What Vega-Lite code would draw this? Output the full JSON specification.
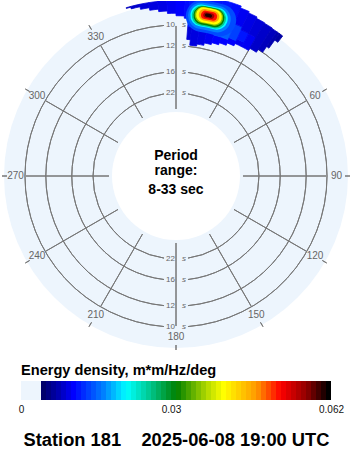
{
"$schema":"https://vega.github.io/schema/vega-lite/v6.json",
"padding":0,
"background":"white",
"spacing":11,
"config":{"view":{"stroke":null},"font":"Liberation Sans"},
"datasets":{
 "disk":[{"f0":0.0303,"f1":0.1168}],
 "rings":[{"p":10,"f":0.1},{"p":12,"f":0.0833},{"p":16,"f":0.0625},{"p":22,"f":0.0455}],
 "spokes":[{"d":0},{"d":30},{"d":60},{"d":90},{"d":120},{"d":150},{"d":180},{"d":210},{"d":240},{"d":270},{"d":300},{"d":330}],
 "dirs":[{"d":30,"lab":"30"},{"d":60,"lab":"60"},{"d":90,"lab":"90"},{"d":120,"lab":"120"},{"d":150,"lab":"150"},{"d":180,"lab":"180"},{"d":210,"lab":"210"},{"d":240,"lab":"240"},{"d":270,"lab":"270"},{"d":300,"lab":"300"},{"d":330,"lab":"330"}],
 "ringlab":[{"p":"10","f":0.1,"d":0},{"p":"12","f":0.0833,"d":0},{"p":"16","f":0.0625,"d":0},{"p":"22","f":0.0455,"d":0},{"p":"10","f":0.1,"d":180},{"p":"12","f":0.0833,"d":180},{"p":"16","f":0.0625,"d":180},{"p":"22","f":0.0455,"d":180}],
 "cells":[
  {"a":343.5,"b":345,"f":0.1190,"g":0.1196,"e":0.0085},
  {"a":345,"b":348,"f":0.1176,"g":0.1196,"e":0.009},
  {"a":348,"b":351,"f":0.1155,"g":0.1196,"e":0.0095},
  {"a":351,"b":354,"f":0.1134,"g":0.1196,"e":0.0098},
  {"a":354,"b":357,"f":0.1114,"g":0.1200,"e":0.010},
  {"a":357,"b":360,"f":0.1094,"g":0.1248,"e":0.0105},
  {"a":0,"b":3,"f":0.1074,"g":0.1248,"e":0.011},
  {"a":3,"b":4.5,"f":0.1056,"g":0.1248,"e":0.0115},
  {"a":4.5,"b":6,"f":0.0888,"g":0.0992,"e":0.0095},
  {"a":4.5,"b":6,"f":0.0992,"g":0.1248,"e":0.012},
  {"a":6,"b":9,"f":0.0844,"g":0.0992,"e":0.0098},
  {"a":6,"b":9,"f":0.0992,"g":0.1248,"e":0.012},
  {"a":9,"b":12,"f":0.0860,"g":0.0976,"e":0.010},
  {"a":9,"b":12,"f":0.0976,"g":0.1248,"e":0.012},
  {"a":12,"b":15,"f":0.0880,"g":0.0976,"e":0.0105},
  {"a":12,"b":15,"f":0.0976,"g":0.1248,"e":0.012},
  {"a":15,"b":18,"f":0.0896,"g":0.0960,"e":0.011},
  {"a":15,"b":18,"f":0.0960,"g":0.1112,"e":0.015},
  {"a":15,"b":18,"f":0.1112,"g":0.1248,"e":0.012},
  {"a":18,"b":21,"f":0.0912,"g":0.0960,"e":0.011},
  {"a":18,"b":21,"f":0.0960,"g":0.1120,"e":0.0155},
  {"a":18,"b":21,"f":0.1120,"g":0.1248,"e":0.0115},
  {"a":21,"b":24,"f":0.0932,"g":0.0976,"e":0.011},
  {"a":21,"b":24,"f":0.0976,"g":0.1096,"e":0.014},
  {"a":21,"b":24,"f":0.1096,"g":0.1232,"e":0.0105},
  {"a":24,"b":27,"f":0.0952,"g":0.0992,"e":0.0105},
  {"a":24,"b":27,"f":0.0992,"g":0.1072,"e":0.012},
  {"a":24,"b":27,"f":0.1072,"g":0.1220,"e":0.010},
  {"a":27,"b":30,"f":0.0952,"g":0.1072,"e":0.0105},
  {"a":27,"b":30,"f":0.1072,"g":0.1208,"e":0.0095},
  {"a":30,"b":33,"f":0.0972,"g":0.1204,"e":0.009},
  {"a":33,"b":35,"f":0.1000,"g":0.1200,"e":0.0085},
  {"a":35,"b":36,"f":0.1056,"g":0.1200,"e":0.008},
  {"a":36,"b":37.3,"f":0.1136,"g":0.1200,"e":0.0075}
 ],
 "peak":[
  {"a":3.5,"b":21.5,"f":0.0960,"g":0.1216,"e":0.0145},
  {"a":4.3,"b":19.5,"f":0.0984,"g":0.1196,"e":0.017},
  {"a":5.1,"b":18.4,"f":0.1004,"g":0.1180,"e":0.0216},
  {"a":5.6,"b":17.8,"f":0.1012,"g":0.1172,"e":0.026},
  {"a":6.2,"b":17.2,"f":0.1020,"g":0.1168,"e":0.0316},
  {"a":6.6,"b":16.7,"f":0.1032,"g":0.1164,"e":0.036},
  {"a":7.1,"b":16.2,"f":0.1040,"g":0.1160,"e":0.041},
  {"a":8.0,"b":15.3,"f":0.1056,"g":0.1148,"e":0.047},
  {"a":8.8,"b":14.5,"f":0.1069,"g":0.1136,"e":0.052},
  {"a":9.6,"b":13.5,"f":0.1080,"g":0.1124,"e":0.057},
  {"a":10.2,"b":12.7,"f":0.1088,"g":0.1116,"e":0.061}
 ],
 "bar":[{"a":0,"b":0.004},{"a":0.004,"b":0.005},{"a":0.005,"b":0.006},{"a":0.006,"b":0.007},{"a":0.007,"b":0.008},{"a":0.008,"b":0.009},{"a":0.009,"b":0.01},{"a":0.01,"b":0.011},{"a":0.011,"b":0.012},{"a":0.012,"b":0.013},{"a":0.013,"b":0.014},{"a":0.014,"b":0.015},{"a":0.015,"b":0.016},{"a":0.016,"b":0.017},{"a":0.017,"b":0.018},{"a":0.018,"b":0.019},{"a":0.019,"b":0.02},{"a":0.02,"b":0.021},{"a":0.021,"b":0.022},{"a":0.022,"b":0.023},{"a":0.023,"b":0.024},{"a":0.024,"b":0.025},{"a":0.025,"b":0.026},{"a":0.026,"b":0.027},{"a":0.027,"b":0.028},{"a":0.028,"b":0.029},{"a":0.029,"b":0.03},{"a":0.03,"b":0.031},{"a":0.031,"b":0.032},{"a":0.032,"b":0.033},{"a":0.033,"b":0.034},{"a":0.034,"b":0.035},{"a":0.035,"b":0.036},{"a":0.036,"b":0.037},{"a":0.037,"b":0.038},{"a":0.038,"b":0.039},{"a":0.039,"b":0.04},{"a":0.04,"b":0.041},{"a":0.041,"b":0.042},{"a":0.042,"b":0.043},{"a":0.043,"b":0.044},{"a":0.044,"b":0.045},{"a":0.045,"b":0.046},{"a":0.046,"b":0.047},{"a":0.047,"b":0.048},{"a":0.048,"b":0.049},{"a":0.049,"b":0.05},{"a":0.05,"b":0.051},{"a":0.051,"b":0.052},{"a":0.052,"b":0.053},{"a":0.053,"b":0.054},{"a":0.054,"b":0.055},{"a":0.055,"b":0.056},{"a":0.056,"b":0.057},{"a":0.057,"b":0.058},{"a":0.058,"b":0.059},{"a":0.059,"b":0.06},{"a":0.06,"b":0.061},{"a":0.061,"b":0.062}]
},
"vconcat":[
 {
  "width":350,"height":350,
  "layer":[
   {"data":{"name":"disk"},"mark":{"type":"arc","color":"#edf5fd"},
    "encoding":{"radius":{"field":"f1","type":"quantitative","stack":null,"scale":{"type":"linear","domain":[0.0303,0.1168],"range":[64,172],"zero":false,"nice":false}},"radius2":{"field":"f0"}}},

   {"data":{"name":"rings"},"transform":[{"filter":"datum.p==10"}],"mark":{"type":"arc","filled":false,"color":"#777777","strokeWidth":1},
    "encoding":{"theta":{"datum":4.55,"type":"quantitative","scale":{"type":"linear","domain":[0,360],"range":[0,6.283185307179586],"zero":false,"nice":false}},"theta2":{"datum":175.45},"radius":{"field":"f","type":"quantitative","stack":null,"scale":{"type":"linear","domain":[0.0303,0.1168],"range":[64,172],"zero":false,"nice":false}},"radius2":{"field":"f"}}},
   {"data":{"name":"rings"},"transform":[{"filter":"datum.p==10"}],"mark":{"type":"arc","filled":false,"color":"#777777","strokeWidth":1},
    "encoding":{"theta":{"datum":184.55,"type":"quantitative","scale":{"type":"linear","domain":[0,360],"range":[0,6.283185307179586],"zero":false,"nice":false}},"theta2":{"datum":355.45},"radius":{"field":"f","type":"quantitative","stack":null,"scale":{"type":"linear","domain":[0.0303,0.1168],"range":[64,172],"zero":false,"nice":false}},"radius2":{"field":"f"}}},
   {"data":{"name":"rings"},"transform":[{"filter":"datum.p==12"}],"mark":{"type":"arc","filled":false,"color":"#777777","strokeWidth":1},
    "encoding":{"theta":{"datum":5.28,"type":"quantitative","scale":{"type":"linear","domain":[0,360],"range":[0,6.283185307179586],"zero":false,"nice":false}},"theta2":{"datum":174.72},"radius":{"field":"f","type":"quantitative","stack":null,"scale":{"type":"linear","domain":[0.0303,0.1168],"range":[64,172],"zero":false,"nice":false}},"radius2":{"field":"f"}}},
   {"data":{"name":"rings"},"transform":[{"filter":"datum.p==12"}],"mark":{"type":"arc","filled":false,"color":"#777777","strokeWidth":1},
    "encoding":{"theta":{"datum":185.28,"type":"quantitative","scale":{"type":"linear","domain":[0,360],"range":[0,6.283185307179586],"zero":false,"nice":false}},"theta2":{"datum":354.72},"radius":{"field":"f","type":"quantitative","stack":null,"scale":{"type":"linear","domain":[0.0303,0.1168],"range":[64,172],"zero":false,"nice":false}},"radius2":{"field":"f"}}},
   {"data":{"name":"rings"},"transform":[{"filter":"datum.p==16"}],"mark":{"type":"arc","filled":false,"color":"#777777","strokeWidth":1},
    "encoding":{"theta":{"datum":6.6,"type":"quantitative","scale":{"type":"linear","domain":[0,360],"range":[0,6.283185307179586],"zero":false,"nice":false}},"theta2":{"datum":173.4},"radius":{"field":"f","type":"quantitative","stack":null,"scale":{"type":"linear","domain":[0.0303,0.1168],"range":[64,172],"zero":false,"nice":false}},"radius2":{"field":"f"}}},
   {"data":{"name":"rings"},"transform":[{"filter":"datum.p==16"}],"mark":{"type":"arc","filled":false,"color":"#777777","strokeWidth":1},
    "encoding":{"theta":{"datum":186.6,"type":"quantitative","scale":{"type":"linear","domain":[0,360],"range":[0,6.283185307179586],"zero":false,"nice":false}},"theta2":{"datum":353.4},"radius":{"field":"f","type":"quantitative","stack":null,"scale":{"type":"linear","domain":[0.0303,0.1168],"range":[64,172],"zero":false,"nice":false}},"radius2":{"field":"f"}}},
   {"data":{"name":"rings"},"transform":[{"filter":"datum.p==22"}],"mark":{"type":"arc","filled":false,"color":"#777777","strokeWidth":1},
    "encoding":{"theta":{"datum":8.3,"type":"quantitative","scale":{"type":"linear","domain":[0,360],"range":[0,6.283185307179586],"zero":false,"nice":false}},"theta2":{"datum":171.7},"radius":{"field":"f","type":"quantitative","stack":null,"scale":{"type":"linear","domain":[0.0303,0.1168],"range":[64,172],"zero":false,"nice":false}},"radius2":{"field":"f"}}},
   {"data":{"name":"rings"},"transform":[{"filter":"datum.p==22"}],"mark":{"type":"arc","filled":false,"color":"#777777","strokeWidth":1},
    "encoding":{"theta":{"datum":188.3,"type":"quantitative","scale":{"type":"linear","domain":[0,360],"range":[0,6.283185307179586],"zero":false,"nice":false}},"theta2":{"datum":351.7},"radius":{"field":"f","type":"quantitative","stack":null,"scale":{"type":"linear","domain":[0.0303,0.1168],"range":[64,172],"zero":false,"nice":false}},"radius2":{"field":"f"}}},

   {"data":{"name":"spokes"},"mark":{"type":"arc","filled":false,"color":"#777777","strokeWidth":1},
    "encoding":{"theta":{"field":"d","type":"quantitative","scale":{"type":"linear","domain":[0,360],"range":[0,6.283185307179586],"zero":false,"nice":false}},"theta2":{"field":"d"},"radius":{"datum":0.0327,"type":"quantitative","scale":{"type":"linear","domain":[0.0303,0.1168],"range":[64,172],"zero":false,"nice":false}},"radius2":{"datum":0.0992}}},
   {"data":{"name":"spokes"},"mark":{"type":"arc","filled":false,"color":"#777777","strokeWidth":1},
    "encoding":{"theta":{"field":"d","type":"quantitative","scale":{"type":"linear","domain":[0,360],"range":[0,6.283185307179586],"zero":false,"nice":false}},"theta2":{"field":"d"},"radius":{"datum":0.1144,"type":"quantitative","scale":{"type":"linear","domain":[0.0303,0.1168],"range":[64,172],"zero":false,"nice":false}},"radius2":{"datum":0.1184}}},

   {"data":{"name":"dirs"},"mark":{"type":"text","align":"center","baseline":"middle","fontSize":10,"fill":"#666666"},
    "encoding":{"theta":{"field":"d","type":"quantitative","scale":{"type":"linear","domain":[0,360],"range":[0,6.283185307179586],"zero":false,"nice":false}},"radius":{"datum":0.1076,"type":"quantitative","scale":{"type":"linear","domain":[0.0303,0.1168],"range":[64,172],"zero":false,"nice":false}},"text":{"field":"lab"}}},
   {"data":{"name":"ringlab"},"mark":{"type":"text","align":"right","baseline":"middle","dx":-1,"fontSize":8,"fill":"#666666"},
    "encoding":{"theta":{"field":"d","type":"quantitative","scale":{"type":"linear","domain":[0,360],"range":[0,6.283185307179586],"zero":false,"nice":false}},"radius":{"field":"f","type":"quantitative","stack":null,"scale":{"type":"linear","domain":[0.0303,0.1168],"range":[64,172],"zero":false,"nice":false}},"text":{"field":"p"}}},
   {"data":{"name":"ringlab"},"mark":{"type":"text","align":"left","baseline":"middle","dx":6,"fontSize":8,"fontStyle":"italic","fill":"#666666"},
    "encoding":{"theta":{"field":"d","type":"quantitative","scale":{"type":"linear","domain":[0,360],"range":[0,6.283185307179586],"zero":false,"nice":false}},"radius":{"field":"f","type":"quantitative","stack":null,"scale":{"type":"linear","domain":[0.0303,0.1168],"range":[64,172],"zero":false,"nice":false}},"text":{"value":"s"}}},

   {"data":{"name":"cells"},"mark":{"type":"arc","clip":true,"strokeWidth":0.8},
    "encoding":{"theta":{"field":"a","type":"quantitative","scale":{"type":"linear","domain":[0,360],"range":[0,6.283185307179586],"zero":false,"nice":false}},"theta2":{"field":"b"},
     "radius":{"field":"g","type":"quantitative","scale":{"type":"linear","domain":[0.0303,0.1168],"range":[64,172],"zero":false,"nice":false}},"radius2":{"field":"f"},
     "fill":{"field":"e","type":"quantitative","legend":null,"scale":{"type":"linear","zero":false,"nice":false,"interpolate":"rgb","domain":[0,0.0041,0.0042,0.008,0.011,0.017,0.0216,0.0256,0.0316,0.0376,0.041,0.0476,0.0524,0.0576,0.062],"range":["#edf5fd","#edf5fd","#000058","#0000b0","#0000ff","#0080ff","#00ffff","#00d0a0","#008000","#b0d800","#ffff00","#ff9900","#ff0000","#900000","#000000"]}},
     "stroke":{"field":"e","type":"quantitative","legend":null,"scale":{"type":"linear","zero":false,"nice":false,"interpolate":"rgb","domain":[0,0.0041,0.0042,0.008,0.011,0.017,0.0216,0.0256,0.0316,0.0376,0.041,0.0476,0.0524,0.0576,0.062],"range":["#edf5fd","#edf5fd","#000058","#0000b0","#0000ff","#0080ff","#00ffff","#00d0a0","#008000","#b0d800","#ffff00","#ff9900","#ff0000","#900000","#000000"]}}}},
   {"data":{"name":"peak"},"mark":{"type":"arc","clip":true,"cornerRadius":40},
    "encoding":{"theta":{"field":"a","type":"quantitative","scale":{"type":"linear","domain":[0,360],"range":[0,6.283185307179586],"zero":false,"nice":false}},"theta2":{"field":"b"},
     "radius":{"field":"g","type":"quantitative","scale":{"type":"linear","domain":[0.0303,0.1168],"range":[64,172],"zero":false,"nice":false}},"radius2":{"field":"f"},
     "fill":{"field":"e","type":"quantitative","legend":null,"scale":{"type":"linear","zero":false,"nice":false,"interpolate":"rgb","domain":[0,0.0041,0.0042,0.008,0.011,0.017,0.0216,0.0256,0.0316,0.0376,0.041,0.0476,0.0524,0.0576,0.062],"range":["#edf5fd","#edf5fd","#000058","#0000b0","#0000ff","#0080ff","#00ffff","#00d0a0","#008000","#b0d800","#ffff00","#ff9900","#ff0000","#900000","#000000"]}}}},

   {"data":{"values":[{"t":"Period"}]},"mark":{"type":"text","fontSize":14,"fontWeight":"bold","fill":"black","align":"center","baseline":"alphabetic","dy":-16.5},"encoding":{"text":{"field":"t"}}},
   {"data":{"values":[{"t":"range:"}]},"mark":{"type":"text","fontSize":14,"fontWeight":"bold","fill":"black","align":"center","baseline":"alphabetic","dy":-0.7},"encoding":{"text":{"field":"t"}}},
   {"data":{"values":[{"t":"8-33 sec"}]},"mark":{"type":"text","fontSize":14,"fontWeight":"bold","fill":"black","align":"center","baseline":"alphabetic","dy":18.3},"encoding":{"text":{"field":"t"}}}
  ]
 },
 {
  "width":350,"height":19,
  "data":{"name":"bar"},
  "title":{"text":"Energy density, m*m/Hz/deg","anchor":"start","frame":"group","dx":20,"fontSize":14.6,"fontWeight":"bold","color":"black","offset":3},
  "mark":{"type":"rect"},
  "encoding":{
   "x":{"field":"a","type":"quantitative","scale":{"domain":[-0.004,0.066],"nice":false,"zero":false},
        "axis":{"values":[0,0.03,0.062],"format":".2~g","domain":false,"ticks":false,"grid":false,"labelFontSize":10,"labelColor":"#111111","labelPadding":4,"labelFlush":false,"labelOverlap":false,
                "title":"Station 181\u00a0\u00a0\u00a0\u00a02025-06-08 19:00 UTC","titleFontSize":18.3,"titleFontWeight":"bold","titleColor":"black","titlePadding":17}},
   "x2":{"field":"b"},
   "color":{"field":"b","type":"quantitative","legend":null,"scale":{"type":"linear","zero":false,"nice":false,"interpolate":"rgb","domain":[0,0.0041,0.0042,0.008,0.011,0.017,0.0216,0.0256,0.0316,0.0376,0.041,0.0476,0.0524,0.0576,0.062],"range":["#edf5fd","#edf5fd","#000058","#0000b0","#0000ff","#0080ff","#00ffff","#00d0a0","#008000","#b0d800","#ffff00","#ff9900","#ff0000","#900000","#000000"]}}
  }
 }
]
}
